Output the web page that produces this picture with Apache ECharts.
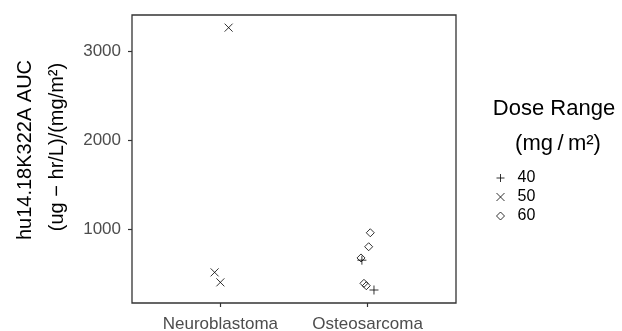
<!DOCTYPE html>
<html>
<head>
<meta charset="utf-8">
<script src="https://cdn.jsdelivr.net/npm/echarts@6/dist/echarts.min.js"></script>
<style>
html,body{margin:0;padding:0;background:#fff;}
#chart{width:622px;height:331px;}
</style>
</head>
<body>
<div id="chart"></div>
<script>
// Data
const categories = ['Neuroblastoma', 'Osteosarcoma'];
const yTicks = [1000, 2000, 3000];
const doseLevels = ['40', '50', '60'];
// each point: jittered x position (category index 1..2), AUC, dose
const pointX    = [1.056, 0.961, 1.000, 2.018, 2.007, 1.955, 1.961, 1.975, 1.991, 2.043];
const pointAUC  = [3262,  513,   401,   958,   801,   675,   650,   390,   363,   315];
const pointDose = ['50',  '50',  '50',  '60',  '60',  '60',  '40',  '60',  '60',  '40'];

const FONT = 'Liberation Sans, Arial, sans-serif';
const symbols = {
  '40': 'path://M5,0 L5,10 M0,5 L10,5',
  '50': 'path://M0,0 L10,10 M10,0 L0,10',
  '60': 'path://M5,0 L10,5 L5,10 L0,5 Z'
};
const sizes = { '40': 9, '50': 8, '60': 8 };

const series = doseLevels.map(d => ({
  name: d,
  type: 'scatter',
  symbol: symbols[d],
  symbolSize: sizes[d],
  itemStyle: { color: 'rgba(0,0,0,0)', borderColor: '#000', borderWidth: 1 },
  emphasis: { disabled: true },
  data: pointX.map((x, i) => [x, pointAUC[i], pointDose[i]]).filter(p => p[2] === d).map(p => [p[0], p[1]])
}));

const chart = echarts.init(document.getElementById('chart'), null, { renderer: 'canvas' });
chart.setOption({
  animation: false,
  backgroundColor: '#fff',
  grid: { left: 132, right: 166, top: 15, bottom: 28, outerBoundsMode: 'none', containLabel: false, show: true, borderColor: '#333', borderWidth: 1.3, backgroundColor: 'transparent' },
  xAxis: {
    type: 'value', min: 0.4, max: 2.6,
    axisLine: { show: false },
    splitLine: { show: false },
    axisTick: { show: true, length: 4, lineStyle: { color: '#333', width: 1.2 }, customValues: [1, 2] },
    axisLabel: {
      customValues: [1, 2],
      formatter: v => categories[Math.round(v) - 1],
      color: '#4d4d4d', fontSize: 17, fontFamily: FONT, margin: 13
    }
  },
  yAxis: {
    type: 'value', min: 169, max: 3404,
    axisLine: { show: false },
    splitLine: { show: false },
    axisTick: { show: true, length: 4, lineStyle: { color: '#333', width: 1.2 }, customValues: yTicks },
    axisLabel: { customValues: yTicks, formatter: v => String(v), color: '#4d4d4d', fontSize: 17, fontFamily: FONT, margin: 11 }
  },
  legend: {
    orient: 'vertical',
    left: 491, top: 165,
    itemWidth: 8, itemHeight: 8, itemGap: 3,
    selectedMode: false,
    data: doseLevels.map(d => ({ name: d, icon: symbols[d], itemStyle: { color: 'rgba(0,0,0,0)', borderColor: '#000', borderWidth: 1 } })),
    textStyle: { fontSize: 16, fontFamily: FONT, color: '#000', padding: [0, 0, 0, 8] }
  },
  graphic: [
    { type: 'text', rotation: Math.PI / 2,
      style: { text: 'hu14.18K322A AUC', font: '20px ' + FONT, fill: '#000', textAlign: 'center', textVerticalAlign: 'middle' },
      x: 25, y: 150, silent: true },
    { type: 'text', rotation: Math.PI / 2,
      style: { text: '(ug \u2212 hr/L)/(mg/m\u00b2)', font: '20px ' + FONT, fill: '#000', textAlign: 'center', textVerticalAlign: 'middle' },
      x: 57, y: 147, silent: true },
    { type: 'text',
      style: { text: 'Dose Range', font: '22px ' + FONT, fill: '#000', textAlign: 'center', textVerticalAlign: 'middle' },
      x: 554, y: 109, silent: true },
    { type: 'text',
      style: { text: '(mg\u2009/\u2009m\u00b2)', font: '22px ' + FONT, fill: '#000', textAlign: 'center', textVerticalAlign: 'middle' },
      x: 558, y: 144, silent: true }
  ],
  series: series
});
</script>
</body>
</html>
